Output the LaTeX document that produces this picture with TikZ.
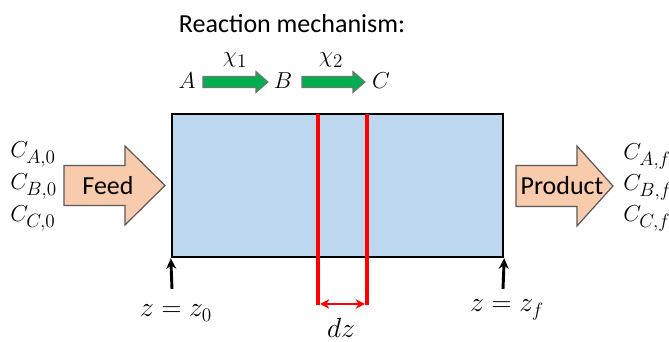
\documentclass[tikz,border=0pt]{standalone}
\usepackage{fontspec}
\setmainfont{Carlito}
\usetikzlibrary{arrows.meta}

\definecolor{reactorblue}{HTML}{BDD7EE}
\definecolor{flowpeach}{HTML}{F8CBAD}
\definecolor{rxngreen}{HTML}{00B050}

\tikzset{
  labeltext/.style={font=\fontsize{19.5}{22}\selectfont, inner sep=0pt},
  concmath/.style={font=\fontsize{19}{22}\selectfont, inner sep=0pt, anchor=base west},
  rxnmath/.style={font=\fontsize{19}{22}\selectfont, inner sep=0pt},
  posmath/.style={font=\fontsize{20.5}{24}\selectfont, inner sep=0pt, anchor=base},
  flowarrow/.style={fill=flowpeach, draw=black!65, line width=0.9pt, line join=miter},
  rxnarrow/.style={fill=rxngreen, draw=black!55, line width=0.8pt, line join=miter},
  reactorbox/.style={fill=reactorblue, draw=black, line width=1.8pt,
    minimum width=248.25pt, minimum height=107.25pt, inner sep=0pt},
  marker/.style={-{Stealth[length=8pt,width=7.5pt]}, line width=2.2pt},
  slice/.style={red, line width=2.8pt}
}

% block arrow: style, x start, x head, x tip, y centre, half shaft, half head
\newcommand{\blockarrow}[7]{%
  \draw[#1] (#2,#5-#6) -- (#3,#5-#6) -- (#3,#5-#7) -- (#4,#5)
    -- (#3,#5+#7) -- (#3,#5+#6) -- (#2,#5+#6) -- cycle;
}

\begin{document}
\begin{tikzpicture}[x=0.75pt, y=-0.75pt]
  \useasboundingbox (0,0) rectangle (669,342);

  % Reaction mechanism
  \node[labeltext] (title) at (292,24) {Reaction mechanism:};
  \node[rxnmath] (spA) at (187,81) {$A$};
  \node[rxnmath] (spB) at (283,81) {$B$};
  \node[rxnmath] (spC) at (381,81) {$C$};
  \blockarrow{rxnarrow}{203}{256}{268}{82}{5.5}{10.5}
  \blockarrow{rxnarrow}{302}{353}{365}{82}{5.5}{10.5}
  \node[rxnmath] (chi1) at (235,60) {$\chi_1$};
  \node[rxnmath] (chi2) at (331,60) {$\chi_2$};

  % Reactor
  \node[reactorbox] (reactor) at (337.5,185.5) {};

  % Differential slice
  \coordinate (sliceLtop) at (318,114);
  \coordinate (sliceLbot) at (318,305);
  \coordinate (sliceRtop) at (367,114);
  \coordinate (sliceRbot) at (367,305);
  \draw[slice] (sliceLtop) -- (sliceLbot);
  \draw[slice] (sliceRtop) -- (sliceRbot);
  \coordinate (dzL) at (320,304);
  \coordinate (dzR) at (365,304);
  \draw[red, line width=2pt, {Stealth[length=7pt,width=7pt]}-{Stealth[length=7pt,width=7pt]}] (dzL) -- (dzR);
  \node[posmath] (dzlab) at (341,338) {$dz$};

  % Feed and product
  \blockarrow{flowarrow}{64}{125}{165}{185.5}{20}{39.5}
  \node[labeltext] (feedlab) at (108,186) {Feed};
  \blockarrow{flowarrow}{516}{577}{613}{186}{20.5}{40}
  \node[labeltext] (prodlab) at (562,186) {Product};

  % Inlet concentrations
  \node[concmath] (cA0) at (10,158) {$C_{A,0}$};
  \node[concmath] (cB0) at (10,190) {$C_{B,0}$};
  \node[concmath] (cC0) at (10,222) {$C_{C,0}$};

  % Outlet concentrations
  \node[concmath] (cAf) at (623,160) {$C_{A,f}$};
  \node[concmath] (cBf) at (623,191) {$C_{B,f}$};
  \node[concmath] (cCf) at (623,222) {$C_{C,f}$};

  % Boundary markers
  \coordinate (z0tail) at (172,289);
  \coordinate (zftail) at (503,289);
  \draw[marker] (z0tail) -- (reactor.south west);
  \draw[marker] (zftail) -- (reactor.south east);
  \node[posmath] (z0lab) at (176,317) {$z=z_0$};
  \node[posmath] (zflab) at (507,312) {$z=z_f$};
\end{tikzpicture}
\end{document}
